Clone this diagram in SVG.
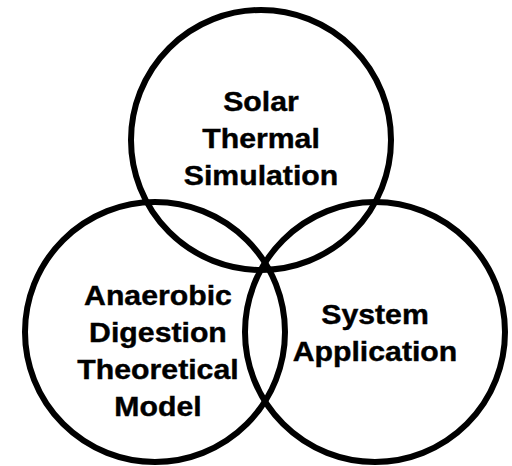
<svg xmlns="http://www.w3.org/2000/svg" width="512" height="466" viewBox="0 0 512 466">
<style>
.c{fill:none;stroke:#000;stroke-width:6}
.t{font-family:"Liberation Sans",Arial,sans-serif;font-weight:bold;font-size:27px;fill:#000;text-anchor:middle;stroke:#000;stroke-width:0.4}
</style>
<rect width="512" height="466" fill="#fff"/>
<g id="solar">
<circle class="c" cx="261" cy="140" r="130"/>
<g transform="matrix(1.12 0 0 1 -31.32 0)">
<text class="t" x="261" y="111">Solar</text>
<text class="t" x="261" y="148">Thermal</text>
<text class="t" x="261" y="185">Simulation</text>
</g>
</g>
<g id="anaerobic">
<circle class="c" cx="155" cy="332" r="130"/>
<g transform="matrix(1.12 0 0 1 -18.96 0)">
<text class="t" x="158" y="305">Anaerobic</text>
<text class="t" x="158" y="342">Digestion</text>
<text class="t" x="158" y="379">Theoretical</text>
<text class="t" x="158" y="416">Model</text>
</g>
</g>
<g id="system">
<circle class="c" cx="375" cy="332" r="130"/>
<g transform="matrix(1.12 0 0 1 -45 0)">
<text class="t" x="375" y="324">System</text>
<text class="t" x="375" y="361">Application</text>
</g>
</g>
<g id="connectors"/>
</svg>
